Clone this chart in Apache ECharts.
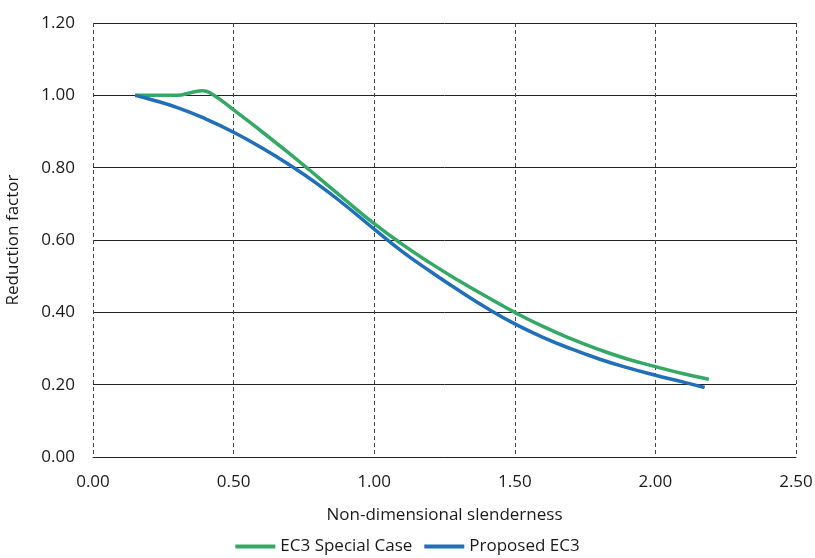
<!DOCTYPE html>
<html>
<head>
<meta charset="utf-8">
<script src="https://cdn.jsdelivr.net/npm/echarts@6/dist/echarts.min.js"></script>
<style>
  html, body { margin: 0; padding: 0; background: #fff; }
  #chart { width: 815px; height: 558px; }
</style>
</head>
<body>
<div id="chart"></div>
<script>
// Values
const ec3X = [0.15, 0.20, 0.30, 0.35, 0.39, 0.42, 0.50, 0.60, 0.70, 0.80, 0.90, 1.00, 1.10, 1.20, 1.30, 1.40, 1.50, 1.60, 1.70, 1.80, 1.90, 2.00, 2.10, 2.19];
const ec3Y = [1.00, 1.00, 1.00, 1.008, 1.013, 1.005, 0.960, 0.900, 0.838, 0.774, 0.709, 0.645, 0.588, 0.536, 0.488, 0.443, 0.400, 0.361, 0.327, 0.297, 0.271, 0.250, 0.230, 0.215];
const propX = [0.15, 0.20, 0.30, 0.40, 0.50, 0.60, 0.70, 0.80, 0.90, 1.00, 1.10, 1.20, 1.30, 1.40, 1.50, 1.60, 1.70, 1.80, 1.90, 2.00, 2.10, 2.175];
const propY = [1.00, 0.990, 0.966, 0.935, 0.898, 0.855, 0.807, 0.754, 0.694, 0.630, 0.568, 0.513, 0.461, 0.412, 0.368, 0.331, 0.299, 0.271, 0.247, 0.226, 0.207, 0.192];

const seriesNames = ['EC3 Special Case', 'Proposed EC3'];
const seriesColors = ['#34a965', '#1f6fba'];

const font = '"Open Sans", "Noto Sans", sans-serif';
const textColor = '#1a1a1a';

const zip = (xs, ys) => xs.map((x, i) => [x, ys[i]]);

const chart = echarts.init(document.getElementById('chart'));
chart.setOption({
    animation: false,
    grid: { left: 93, right: 19, top: 23, bottom: 101, outerBoundsMode: 'none' },
    legend: {
        bottom: -2,
        left: 'center',
        icon: 'rect',
        itemWidth: 40,
        itemHeight: 4,
        itemGap: 12,
        textStyle: { fontFamily: font, fontSize: 17, color: textColor },
        data: seriesNames
    },
    xAxis: {
        type: 'value',
        min: 0,
        max: 2.5,
        interval: 0.5,
        name: 'Non-dimensional slenderness',
        nameLocation: 'middle',
        nameGap: 50,
        nameTextStyle: { fontFamily: font, fontSize: 17, color: textColor },
        axisLine: { show: true, lineStyle: { color: '#222', width: 1 } },
        axisTick: { show: false },
        axisLabel: {
            fontFamily: font, fontSize: 17, color: textColor, margin: 17,
            formatter: v => v.toFixed(2)
        },
        splitLine: { show: true, lineStyle: { color: '#444', type: [4, 3], width: 1 } }
    },
    yAxis: {
        type: 'value',
        min: 0,
        max: 1.2,
        interval: 0.2,
        name: 'Reduction factor',
        nameLocation: 'middle',
        nameGap: 71,
        nameTextStyle: { fontFamily: font, fontSize: 17, color: textColor },
        axisLine: { show: false },
        axisTick: { show: false },
        axisLabel: {
            fontFamily: font, fontSize: 17, color: textColor, margin: 18,
            formatter: v => v.toFixed(2)
        },
        splitLine: { show: true, lineStyle: { color: '#222', width: 1 } }
    },
    series: [
        {
            name: seriesNames[0],
            type: 'line',
            data: zip(ec3X, ec3Y),
            smooth: 0.5,
            showSymbol: false,
            color: seriesColors[0],
            lineStyle: { width: 3.5, color: seriesColors[0] },
            z: 3
        },
        {
            name: seriesNames[1],
            type: 'line',
            data: zip(propX, propY),
            smooth: 0.5,
            showSymbol: false,
            color: seriesColors[1],
            lineStyle: { width: 3.5, color: seriesColors[1] },
            z: 4
        }
    ]
});
</script>
</body>
</html>
